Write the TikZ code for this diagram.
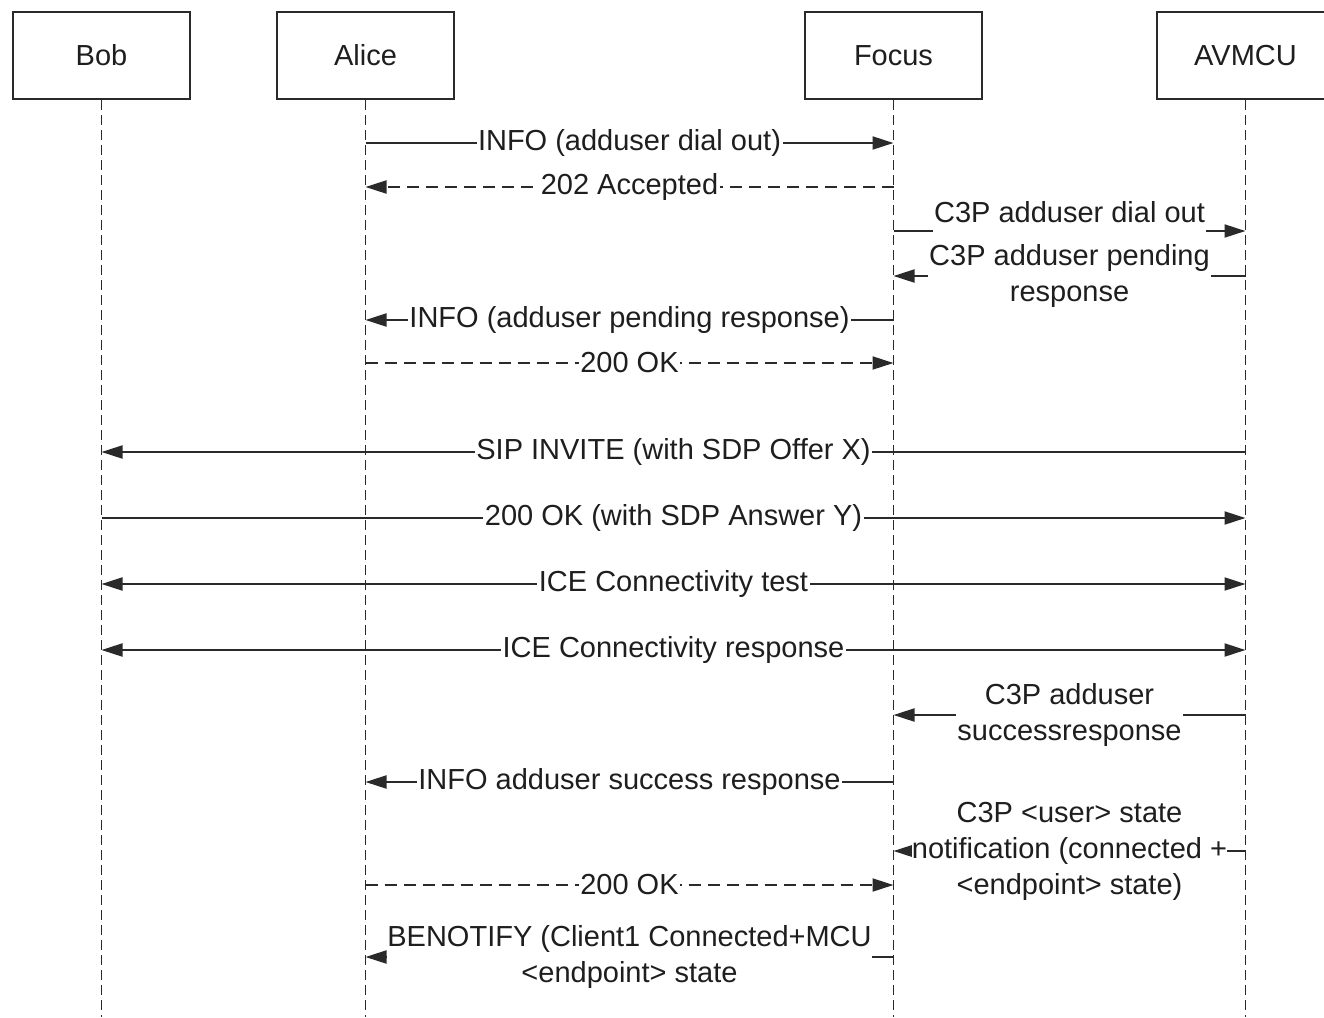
\documentclass[tikz,border=0pt]{standalone}
\usepackage{fontspec}
\setmainfont{Liberation Sans}
\usetikzlibrary{arrows.meta}
\definecolor{ln}{HTML}{2A2A2A}
\definecolor{txt}{HTML}{1E1E1E}
\begin{document}
\begin{tikzpicture}[x=1pt,y=-1pt,
  every node/.style={font=\fontsize{29}{36}\selectfont, text=txt},
  head/.style={draw=ln, line width=1.7pt, minimum width=177pt, minimum height=87pt, inner sep=0pt},
  life/.style={draw=ln, line width=1.8pt, dash pattern=on 10pt off 5pt},
  msg/.style={draw=ln, line width=2pt, -{Triangle[length=21pt,width=13pt]}},
  rmsg/.style={msg, dash pattern=on 12pt off 7pt},
  bimsg/.style={draw=ln, line width=2pt, {Triangle[length=21pt,width=13pt]}-{Triangle[length=21pt,width=13pt]}},
  lbl/.style={fill=white, inner xsep=1.5pt, inner ysep=0pt, align=center, midway}
]
\useasboundingbox (0,0) rectangle (1324,1017);
\clip (0,0) rectangle (1324,1017);

% heads
\node[head] (bob) at (101.5,55.5) {Bob};
\node[head] (alice) at (365.5,55.5) {Alice};
\node[head] (focus) at (893.5,55.5) {Focus};
\node[head] (mcu) at (1245.5,55.5) {AVMCU};

% lifelines
\coordinate (bobE) at (101.5,1017);
\coordinate (aliceE) at (365.5,1017);
\coordinate (focusE) at (893.5,1017);
\coordinate (mcuE) at (1245.5,1017);
\draw[life] (bob.south) -- (bobE);
\draw[life] (alice.south) -- (aliceE);
\draw[life] (focus.south) -- (focusE);
\draw[life] (mcu.south) -- (mcuE);

% message points on lifelines
\foreach \n/\y in {1/143,2/187,3/231,4/276,5/320,6/363,7/452,8/518,9/584,10/650,11/715,12/782,13/851,14/885,15/957}{
  \coordinate (B\n) at (101.5,\y);
  \coordinate (A\n) at (365.5,\y);
  \coordinate (F\n) at (893.5,\y);
  \coordinate (M\n) at (1245.5,\y);
}

\draw[msg] (A1) -- node[lbl]{INFO (adduser dial out)} (F1);
\draw[rmsg] (F2) -- node[lbl]{202 Accepted} (A2);
\draw[msg] (F3) -- node[lbl, anchor=base, yshift=8.5pt, text depth=14pt]{C3P adduser dial out} (M3);
\draw[msg] (M4) -- node[lbl]{C3P adduser pending\\response} (F4);
\draw[msg] (F5) -- node[lbl]{INFO (adduser pending response)} (A5);
\draw[rmsg] (A6) -- node[lbl]{200 OK} (F6);
\draw[msg] (M7) -- node[lbl]{SIP INVITE (with SDP Offer X)} (B7);
\draw[msg] (B8) -- node[lbl]{200 OK (with SDP Answer Y)} (M8);
\draw[bimsg] (B9) -- node[lbl]{ICE Connectivity test} (M9);
\draw[bimsg] (B10) -- node[lbl]{ICE Connectivity response} (M10);
\draw[msg] (M11) -- node[lbl]{C3P adduser\\successresponse} (F11);
\draw[msg] (F12) -- node[lbl]{INFO adduser success response} (A12);
\draw[msg] (M13) -- node[lbl, inner xsep=0pt]{C3P <user> state\\notification (connected +\\<endpoint> state)} (F13);
\draw[rmsg] (A14) -- node[lbl]{200 OK} (F14);
\draw[msg] (F15) -- node[lbl, inner xsep=0pt]{BENOTIFY (Client1 Connected+MCU\\<endpoint> state} (A15);
\end{tikzpicture}
\end{document}
